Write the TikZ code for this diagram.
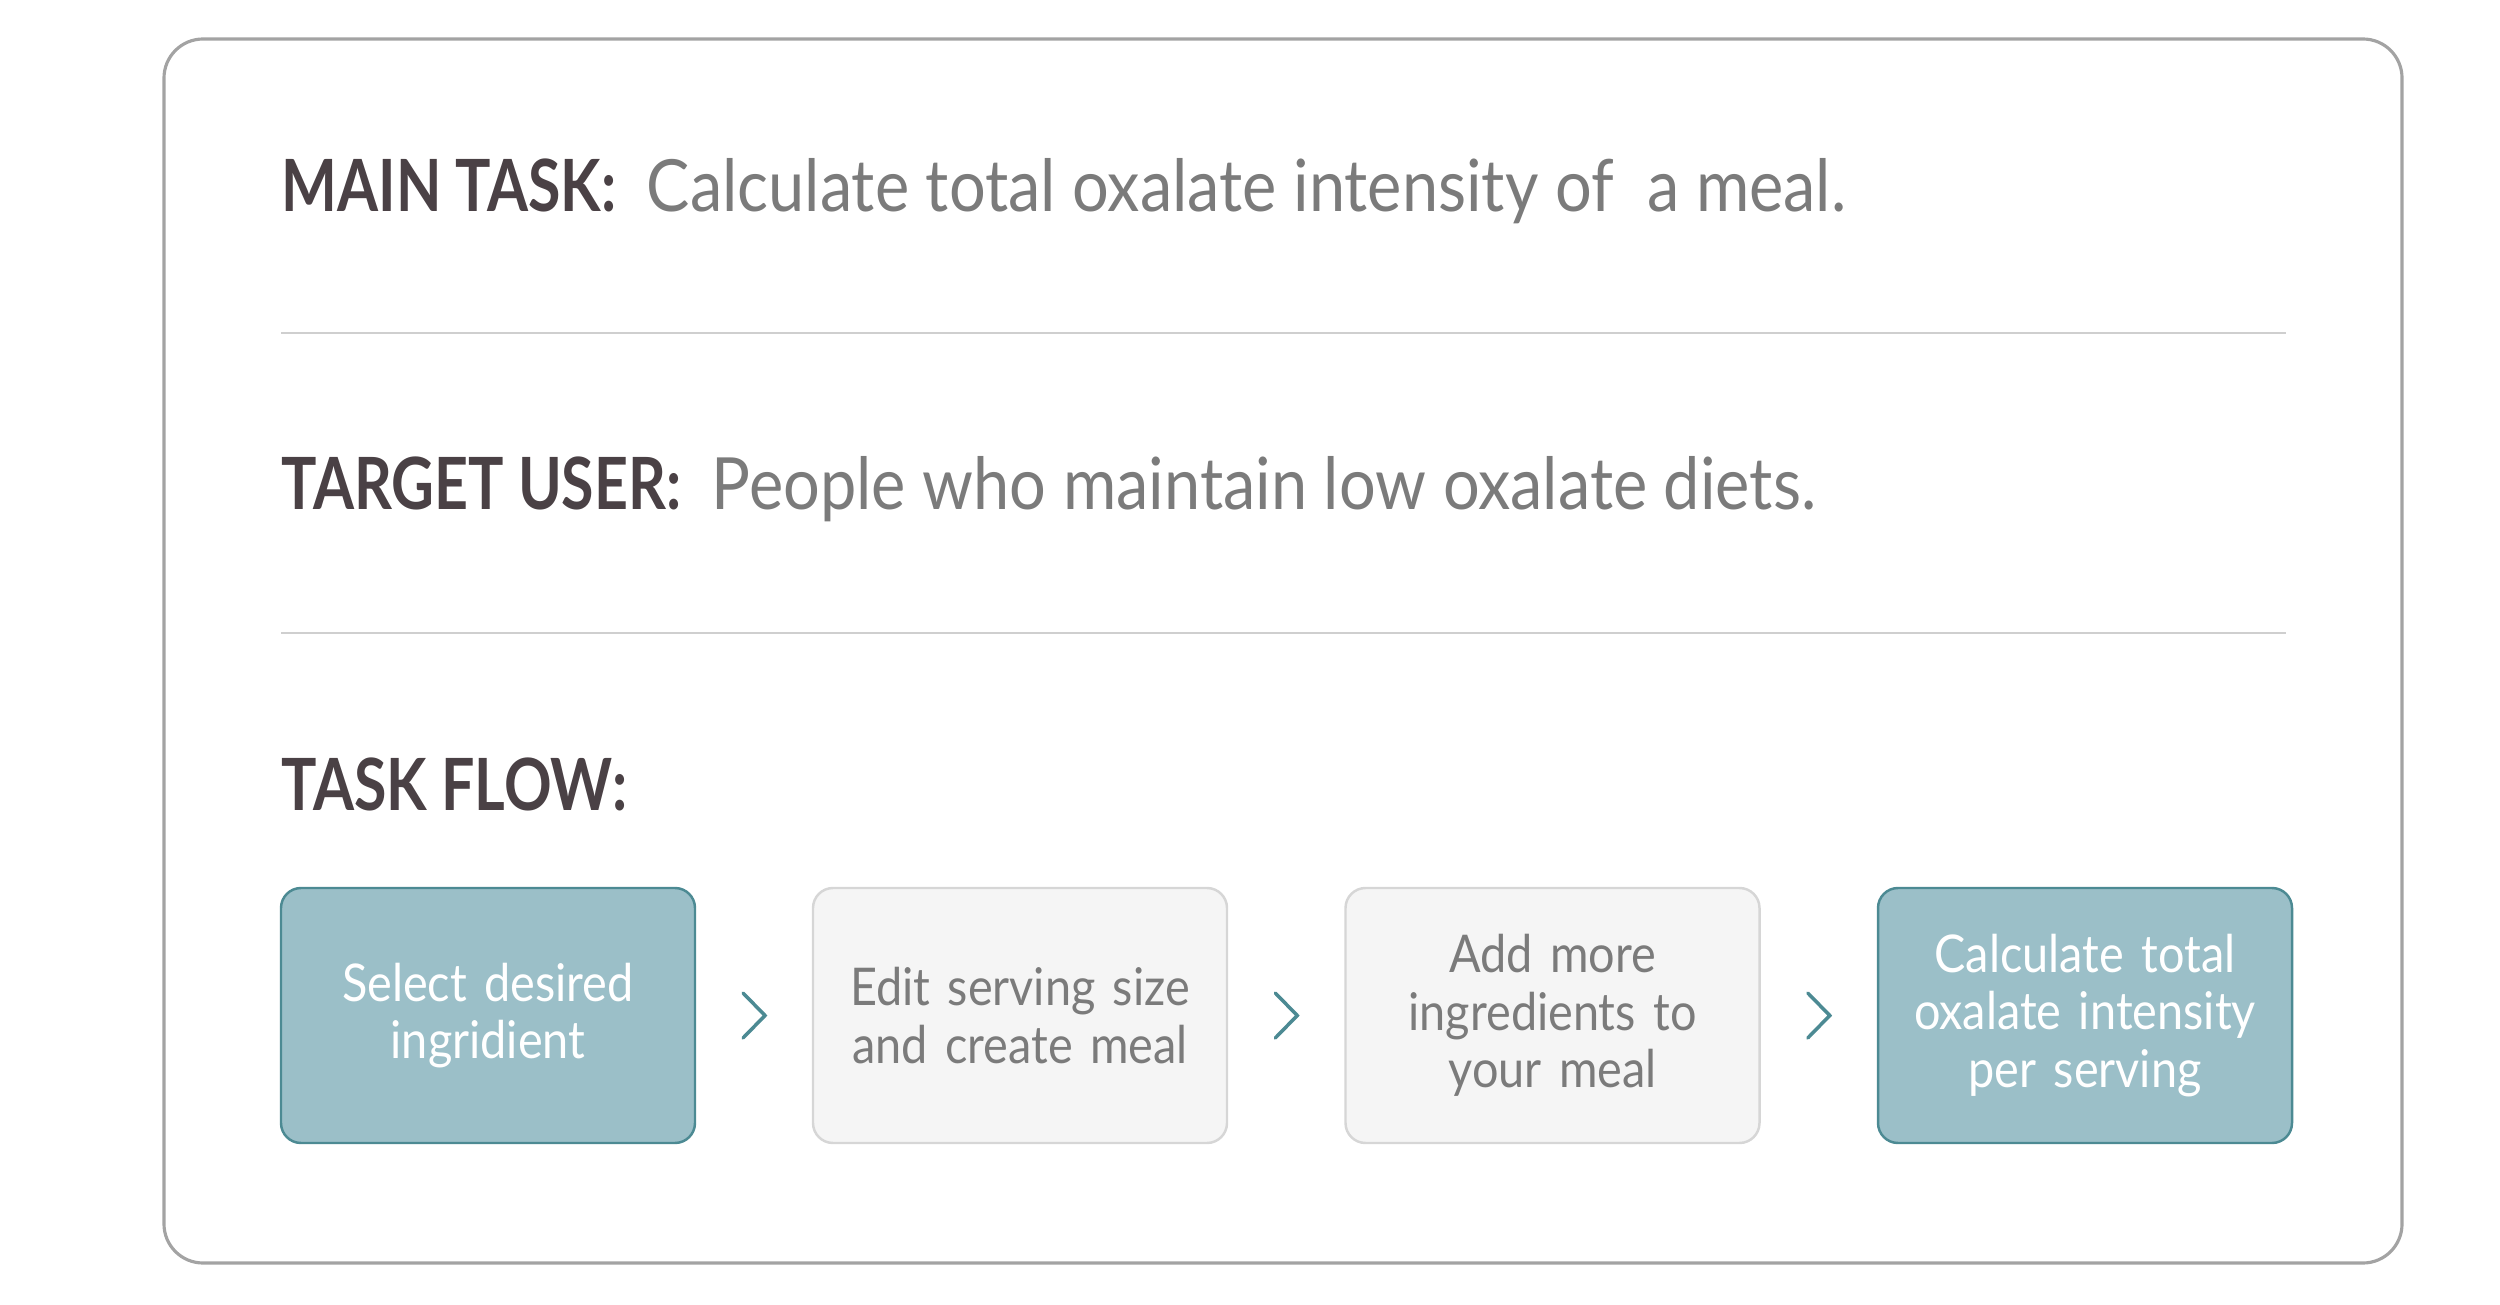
\documentclass[tikz,border=0pt]{standalone}
\usepackage{fontspec}
\setmainfont{Lato}
\newfontfamily\headfont{Lato}[FakeStretch=0.82]
\newfontfamily\plainfont{Lato}[FakeStretch=0.9]
\usepackage{xcolor}
\usetikzlibrary{positioning,calc}

\definecolor{headtxt}{HTML}{4A4145}
\definecolor{bodytxt}{HTML}{7B7B7B}
\definecolor{rulegray}{HTML}{CFCFCF}
\definecolor{framegray}{HTML}{A3A3A3}
\definecolor{tealfill}{HTML}{9BBFC8}
\definecolor{tealedge}{HTML}{4C8A93}
\definecolor{softfill}{HTML}{F5F5F5}
\definecolor{softedge}{HTML}{D6D6D6}

\tikzset{
  headlabel/.style={anchor=base west,inner sep=0pt,text=headtxt,font=\fontsize{20.5}{24}\headfont\bfseries},
  bodyline/.style={inner sep=0pt,text=bodytxt,font=\fontsize{20.5}{24}\plainfont},
  flowbox/.style={draw,rounded corners=0.2cm,minimum width=4.14cm,minimum height=2.55cm,
    text width=3.9cm,align=center,line width=0.7pt,font=\fontsize{14.8}{16.3}\plainfont},
  activebox/.style={flowbox,fill=tealfill,draw=tealedge,text=white},
  idlebox/.style={flowbox,fill=softfill,draw=softedge,text=bodytxt},
  chev/.style={draw=tealedge,line width=1pt,line cap=round}
}

\begin{document}
\begin{tikzpicture}
    \useasboundingbox (0,0) rectangle (25,13.04);

    % Frame
    \draw[framegray,line width=0.9pt,rounded corners=0.39cm] (1.64,0.41) rectangle (24.02,12.65);

    % Header rows
    \node[headlabel] (main) at (2.81,10.92) {MAIN TASK:};
    \node[bodyline,right=0.29cm of main.base east,anchor=base west] (maintxt) {Calculate total oxalate intensity of\ \ a meal.};
    \draw[rulegray,line width=0.8pt] (2.81,9.71) -- (22.86,9.71);

    \node[headlabel] (user) at (2.81,7.94) {TARGET USER:};
    \node[bodyline,right=0.29cm of user.base east,anchor=base west] (usertxt) {People who maintain low oxalate diets.};
    \draw[rulegray,line width=0.8pt] (2.81,6.71) -- (22.86,6.71);

    \node[headlabel] (flow) at (2.81,4.94) {TASK FLOW:};

    % Flow steps
    \node[activebox] (s1) at (4.88,2.885) {Select desired\\ingridient};
    \node[idlebox]   (s2) at (10.20,2.885) {Edit serving size\\and create meal};
    \node[idlebox]   (s3) at (15.525,2.885) {Add more\\ingredients to\\your meal};
    \node[activebox] (s4) at (20.85,2.885) {Calculate total\\oxalate intensity\\per serving};

    % Chevrons between steps
    \foreach \a/\b in {s1/s2,s2/s3,s3/s4}
      \draw[chev] ($(\a.east)!0.5!(\b.west)$) ++(-0.11,0.225) -- ++(0.22,-0.225) -- ++(-0.22,-0.225);
\end{tikzpicture}
\end{document}
